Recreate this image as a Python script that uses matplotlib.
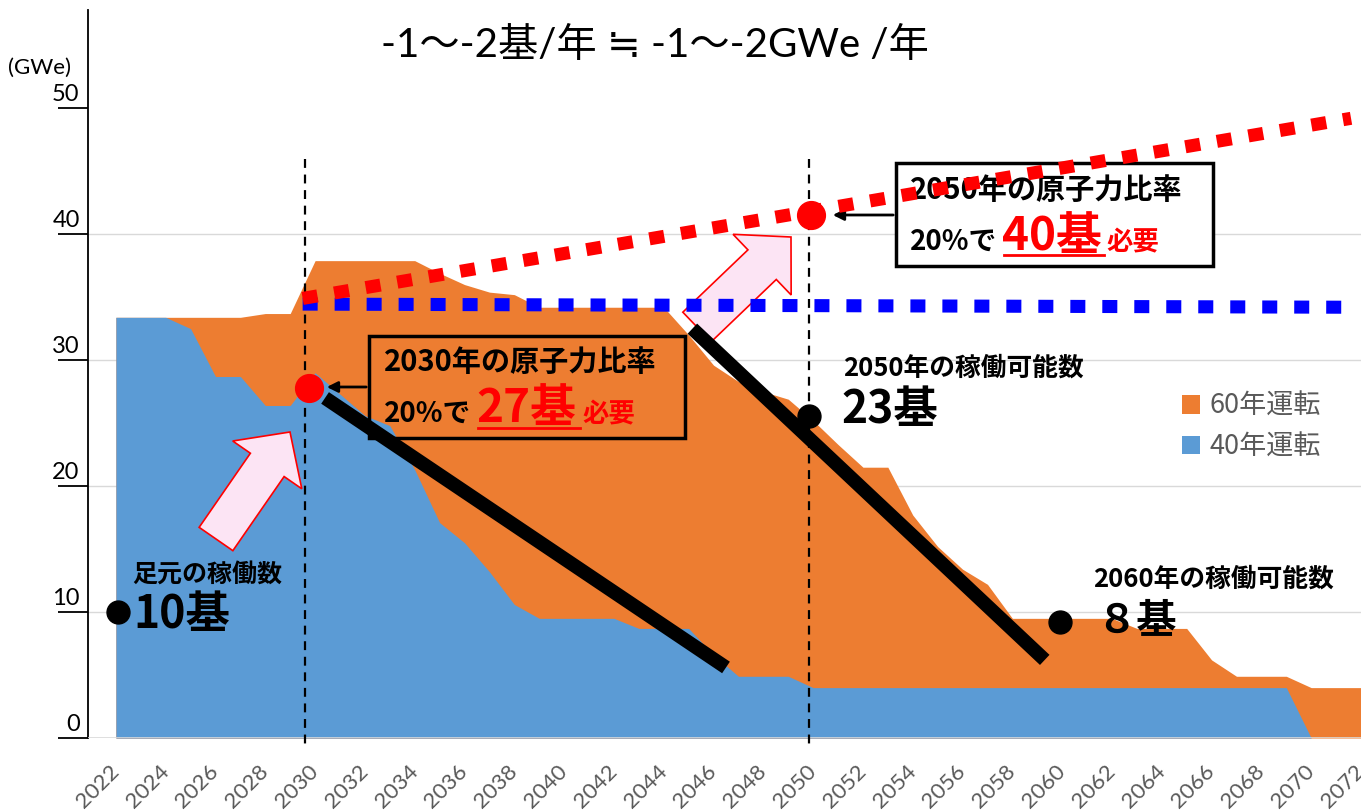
import matplotlib.pyplot as plt
import matplotlib.patches as mpatches
import numpy as np

plt.rcParams['font.family'] = ['Noto Sans CJK JP', 'DejaVu Sans']

# Step 1: data (GWe)
years = np.arange(2022, 2073)
op60 = [33.4, 33.4, 33.4, 33.4, 33.4, 33.4, 33.7, 33.7,
        37.9, 37.9, 37.9, 37.9, 37.9, 36.9, 36.0, 35.4, 35.2,
        34.2, 34.2, 34.2, 34.2, 34.2, 34.2, 32.0, 29.6, 28.3, 27.5, 26.9,
        25.2, 23.3, 21.5, 21.5, 17.7, 15.2, 13.4, 12.2,
        9.5, 9.5, 9.5, 9.5, 9.5, 8.7, 8.7, 8.7, 6.2, 4.9, 4.9, 4.9,
        4.0, 4.0, 4.0]
op40 = [33.4, 33.4, 33.4, 32.5, 28.7, 28.7, 26.4, 26.4,
        29.0, 27.3, 25.6, 24.8, 21.3, 17.1, 15.5, 13.2, 10.6,
        9.5, 9.5, 9.5, 9.5, 8.7, 8.7, 8.7, 6.6, 4.9, 4.9, 4.9] + [4.0] * 20 + [0, 0, 0]
xtick_years = years[::2]
ytick_vals = [0, 10, 20, 30, 40, 50]

# guide lines / markers
guide_years = [2029.6, 2049.85]
target_x = [2029.5, 2071.6]
target_y = [34.9, 49.2]
current_x = [2029.5, 2071.6]
current_y = [34.45, 34.2]
decline40_x = [2030.4, 2046.5]
decline40_y = [27.0, 5.6]
decline60_x = [2045.15, 2059.3]
decline60_y = [32.5, 6.2]
need_x = [2029.75, 2049.93]
need_y = [27.8, 41.5]
count_x = [2022.08, 2049.85, 2059.9]
count_y = [10.0, 25.6, 9.2]

ORANGE = '#ED7D31'
BLUE = '#5B9BD5'
W, H = 1361, 811
LATIN = ['Lato', 'DejaVu Sans', 'Noto Sans CJK JP']

fig = plt.figure(figsize=(W / 100, H / 100), dpi=100)
ax = fig.add_axes([88 / W, 73 / H, 1 - 88 / W, 728 / H])
# pixel coordinate helper axes for the callouts (y grows downward)
ov = fig.add_axes([0, 0, 1, 1])
ov.set_xlim(0, W)
ov.set_ylim(H, 0)
ov.set_axis_off()
P = ov.transData

# Step 2: areas
for v in ytick_vals[1:5]:
    ax.axhline(v, color='#D9D9D9', lw=1, zorder=1)
ax.fill_between(years, op60, color=ORANGE, lw=0, zorder=2, label='60年運転')
ax.fill_between(years, op40, color=BLUE, lw=0, zorder=3, label='40年運転')
ax.axhline(0, color='#D9D9D9', lw=1.2, zorder=3.5)

# Step 3: guides and trend lines
for gx in guide_years:
    ax.plot([gx, gx], [46.0, -0.6], color='black', lw=1.6, dashes=(4, 3),
            zorder=4, clip_on=False)
ax.plot(decline40_x, decline40_y, color='black', lw=10, solid_capstyle='butt', zorder=6)
ax.plot(decline60_x, decline60_y, color='black', lw=10, solid_capstyle='butt', zorder=6)

# pink block arrows
for x0, y0, dx, dy in [(216, 539, 74, -107), (697, 327, 94, -90)]:
    ax.add_patch(mpatches.FancyArrow(x0, y0, dx, dy, width=41, head_width=84,
                                     head_length=40, length_includes_head=True,
                                     fc='#FCE4F4', ec='red', lw=1.2,
                                     transform=P, zorder=5.5))

ax.plot(current_x, current_y, color='#0000FF', lw=9.4, dashes=(1.15, 1.3), zorder=6.2)
ax.plot(count_x, count_y, 'o', color='black', ms=16.5, zorder=7)

# Step 4: callout boxes
bold = dict(fontweight='bold', transform=P, zorder=8)
ax.add_patch(mpatches.Rectangle((369, 336), 316, 102, fill=False, ec='black',
                                lw=2.5, transform=P, zorder=8))
ax.text(384, 362, '2030年の原子力比率', fontsize=21, va='center', color='black', **bold)
ax.text(384, 422, '20%で', fontsize=20, va='baseline', color='black', **bold)
ax.text(476, 422, '27基', fontsize=33, va='baseline', color='red', **bold)
ax.text(582, 422, '必要', fontsize=19, va='baseline', color='red', **bold)
ax.plot([478, 580], [428, 428], color='red', lw=2, transform=P, zorder=8)
ax.annotate('', xy=(324, 387), xytext=(369, 387), xycoords=P, textcoords=P,
            arrowprops=dict(arrowstyle='-|>', color='black', lw=2, mutation_scale=16),
            zorder=8)

ax.add_patch(mpatches.Rectangle((896, 163), 317, 103, fc='white', ec='black',
                                lw=2.5, transform=P, zorder=8))
ax.text(910, 190, '2050年の原子力比率', fontsize=21, va='center', color='black', **bold)
ax.text(910, 250, '20%で', fontsize=20, va='baseline', color='black', **bold)
ax.text(1002, 250, '40基', fontsize=33, va='baseline', color='red', **bold)
ax.text(1106, 250, '必要', fontsize=19, va='baseline', color='red', **bold)
ax.plot([1004, 1104], [255, 255], color='red', lw=2, transform=P, zorder=8)
ax.annotate('', xy=(830, 215), xytext=(896, 215), xycoords=P, textcoords=P,
            arrowprops=dict(arrowstyle='-|>', color='black', lw=2, mutation_scale=16),
            zorder=8)

# count labels
ax.text(132, 575, '足元の稼働数', fontsize=18, va='center', **bold)
ax.text(133, 615, '10基', fontsize=32, va='center', **bold)
ax.text(843, 368, '2050年の稼働可能数', fontsize=18.5, va='center', **bold)
ax.text(841, 410, '23基', fontsize=32, va='center', **bold)
ax.text(1093, 579, '2060年の稼働可能数', fontsize=18.5, va='center', **bold)
ax.text(1096, 622, '８基', fontsize=29, va='center', **bold)

# target line on top
ax.plot(target_x, target_y, color='#FF0000', lw=9.4, dashes=(1.15, 1.3), zorder=9)
ax.plot(need_x, need_y, 'o', color='#FF0000', ms=20, zorder=10)

# Step 5: axes styling
ax.set_xlim(2020.88, 2071.6)
ax.set_ylim(0, 57.8)
for s in ['top', 'right', 'bottom']:
    ax.spines[s].set_visible(False)
ax.spines['left'].set_linewidth(1.3)
ax.set_yticks(ytick_vals)
ax.set_yticklabels([])
ax.tick_params(axis='y', length=21.6, width=1.3, direction='out')
for v in ytick_vals:
    ax.annotate(str(v), xy=(0, v), xycoords=('axes fraction', 'data'),
                xytext=(-6, 5), textcoords='offset points', ha='right',
                va='baseline', fontsize=17, family=LATIN)
ax.set_xticks(xtick_years)
ax.set_xticklabels([str(y) for y in xtick_years], rotation=45, ha='right',
                   va='center', rotation_mode='anchor', color='#595959',
                   fontsize=16, family=LATIN)
ax.tick_params(axis='x', length=0, pad=22)

ax.legend(loc='upper left', bbox_to_anchor=(1182 / W, 1 - 393 / H),
          bbox_transform=fig.transFigure, frameon=False, fontsize=19.5,
          labelcolor='#595959', handlelength=0.65, handleheight=0.65,
          handletextpad=0.35, labelspacing=0.5, borderpad=0, borderaxespad=0)

fig.text(655 / W, 1 - 45 / H, '-1〜-2基/年 ≒ -1〜-2GWe /年', fontsize=29,
         ha='center', va='center', family=LATIN)
fig.text(8 / W, 1 - 68 / H, '(GWe)', fontsize=16, ha='left', va='center',
         family=LATIN)

fig.savefig('out.png', dpi=100)
